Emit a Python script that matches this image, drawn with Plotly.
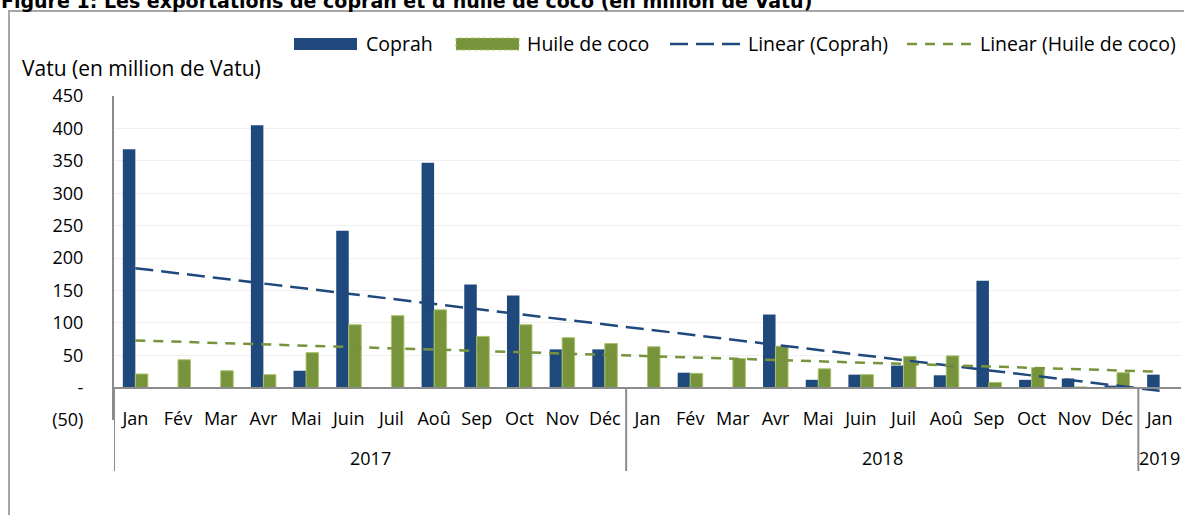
import numpy as np
import plotly.graph_objects as go

years = ["2017", "2018", "2019"]
year_counts = [12, 12, 1]
months = ["Jan", "Fév", "Mar", "Avr", "Mai", "Juin", "Juil", "Aoû", "Sep", "Oct", "Nov", "Déc",
          "Jan", "Fév", "Mar", "Avr", "Mai", "Juin", "Juil", "Aoû", "Sep", "Oct", "Nov", "Déc",
          "Jan"]
coprah = [368, 0, 0, 405, 26, 242, 0, 347, 159, 142, 59, 59,
          0, 23, 0, 113, 12, 20, 34, 19, 165, 12, 14, 3,
          20]
huile = [21, 43, 26, 20, 54, 97, 111, 120, 79, 97, 77, 68,
         63, 22, 45, 64, 29, 20, 48, 49, 8, 31, 1, 23,
         0]
ytick_vals = [-50, 0, 50, 100, 150, 200, 250, 300, 350, 400, 450]
ytick_text = ["(50)", "-", "50", "100", "150", "200", "250", "300", "350", "400", "450"]
series_names = ["Coprah", "Huile de coco", "Linear (Coprah)", "Linear (Huile de coco)"]

title = "Figure 1: Les exportations de coprah et d’huile de coco (en million de Vatu)"
ytitle = "Vatu (en million de Vatu)"

BLUE = "#1F497D"
GREEN = "#77933C"
GREEN_EDGE = "#A9C46E"
AXIS = "#8C8C8C"
FONT = "Open Sans"
FS = 18

W, H = 1184, 515
L, R, T, B = 114, 3, 96, 95
pw, ph = W - L - R, H - T - B


def px_x(p):
    return (p - L) / pw


def px_y(p):
    return (H - B - p) / ph


idx = np.arange(len(months))
tc = np.polyval(np.polyfit(idx, coprah, 1), idx)
th = np.polyval(np.polyfit(idx, huile, 1), idx)

fig = go.Figure()
fig.add_trace(go.Bar(x=idx, y=coprah, name=series_names[0], showlegend=False,
                     marker=dict(color=BLUE, line=dict(width=0))))
fig.add_trace(go.Bar(x=idx, y=huile, name=series_names[1], showlegend=False,
                     marker=dict(color=GREEN, line=dict(color=GREEN_EDGE, width=1))))
fig.add_trace(go.Scatter(x=idx, y=tc, name=series_names[2], mode="lines", showlegend=False,
                         line=dict(color=BLUE, width=2.5, dash="18px,8px")))
fig.add_trace(go.Scatter(x=idx, y=th, name=series_names[3], mode="lines", showlegend=False,
                         line=dict(color=GREEN, width=2.5, dash="10px,8px")))

shapes = [dict(type="rect", xref="paper", yref="paper",
               x0=px_x(9), x1=px_x(1200), y0=px_y(540), y1=px_y(11),
               line=dict(color="#A6A6A6", width=2), fillcolor="rgba(0,0,0,0)", layer="below")]
annotations = [
    dict(text="<b>" + title + "</b>", xref="paper", yref="paper", x=px_x(-1), y=px_y(14),
         xanchor="left", yanchor="bottom", showarrow=False,
         font=dict(family="DejaVu Sans", size=19)),
    dict(text=ytitle, xref="paper", yref="paper", x=px_x(20), y=px_y(68),
         xanchor="left", yanchor="middle", showarrow=False, font=dict(size=21)),
]

# year group labels and dividers
start = 0
bounds = [-0.5]
for yname, cnt in zip(years, year_counts):
    mid = start + (cnt - 1) / 2
    annotations.append(dict(text=yname, xref="x", yref="paper", x=mid, y=px_y(458),
                            xanchor="center", yanchor="middle", showarrow=False,
                            font=dict(size=FS)))
    start += cnt
    bounds.append(start - 0.5)
for bx in bounds[:-1]:
    shapes.append(dict(type="line", xref="x", yref="paper", x0=bx, x1=bx,
                       y0=px_y(471), y1=px_y(388), line=dict(color=AXIS, width=2)))

# legend (drawn to match the wide Excel legend keys)
ly = px_y(44)
shapes += [
    dict(type="rect", xref="paper", yref="paper", x0=px_x(294), x1=px_x(357),
         y0=px_y(50), y1=px_y(38), fillcolor=BLUE, line=dict(width=0)),
    dict(type="rect", xref="paper", yref="paper", x0=px_x(456), x1=px_x(519),
         y0=px_y(50), y1=px_y(38), fillcolor=GREEN, line=dict(color=GREEN_EDGE, width=1, dash="dot")),
    dict(type="line", xref="paper", yref="paper", x0=px_x(670), x1=px_x(741), y0=ly, y1=ly,
         line=dict(color=BLUE, width=2.5, dash="18px,8px")),
    dict(type="line", xref="paper", yref="paper", x0=px_x(907), x1=px_x(972), y0=ly, y1=ly,
         line=dict(color=GREEN, width=2.5, dash="10px,8px")),
]
for name, lx in zip(series_names, [364, 525, 746, 978]):
    annotations.append(dict(text=name, xref="paper", yref="paper", x=px_x(lx), y=ly,
                            xanchor="left", yanchor="middle", showarrow=False,
                            font=dict(size=19.5)))

fig.update_layout(
    width=W, height=H,
    margin=dict(l=L, r=R, t=T, b=B, pad=0),
    paper_bgcolor="white", plot_bgcolor="white",
    font=dict(family=FONT, size=FS, color="#000000"),
    barmode="group", bargap=0.414, bargroupgap=0,
    showlegend=False,
    xaxis=dict(range=[-0.5, len(months) - 0.5], tickmode="array", tickvals=idx, ticktext=months,
               anchor="free", position=px_y(388),
               showline=True, linecolor=AXIS, linewidth=2,
               ticks="", ticklabelstandoff=14, showgrid=False, zeroline=False,
               tickfont=dict(size=FS)),
    yaxis=dict(range=[-50, 450], tickvals=ytick_vals, ticktext=ytick_text,
               showline=True, linecolor=AXIS, linewidth=2, ticks="", ticklabelstandoff=25,
               showgrid=True, gridcolor="#F0F0F0", gridwidth=1, zeroline=False,
               tickfont=dict(size=FS)),
    shapes=shapes,
    annotations=annotations,
)

fig.write_html("out.html", config={"displayModeBar": False},
               post_script="document.body.style.margin='0px';")
